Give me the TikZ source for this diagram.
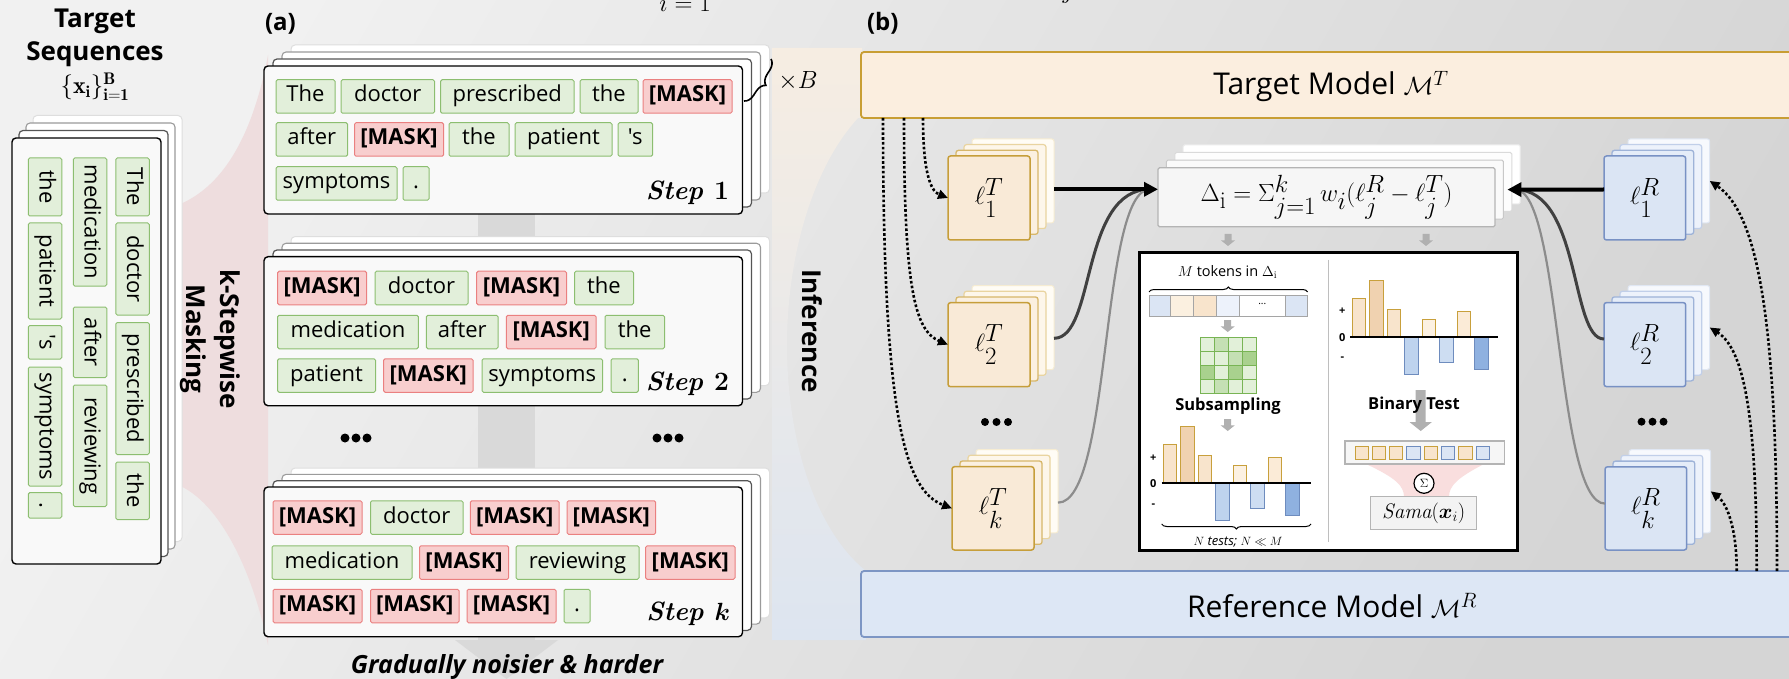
\documentclass[tikz,border=0pt]{standalone}
\usepackage{fontspec}
\usepackage{amsmath,amssymb}
\usetikzlibrary{arrows.meta,decorations.pathreplacing,calc}
\newfontfamily\os{Open Sans}

\definecolor{bgA}{RGB}{241,241,241}
\definecolor{bgD}{RGB}{213,213,213}
\definecolor{funnelpink}{RGB}{238,221,222}
\definecolor{bandgray}{RGB}{217,217,217}
\definecolor{pbtop}{RGB}{246,237,226}
\definecolor{pbbot}{RGB}{221,229,240}
\definecolor{tokfill}{RGB}{226,239,218}
\definecolor{tokline}{RGB}{140,190,112}
\definecolor{mskfill}{RGB}{248,206,206}
\definecolor{mskline}{RGB}{234,128,128}
\definecolor{cardfill}{RGB}{249,249,249}
\definecolor{tgfill}{RGB}{251,238,223}
\definecolor{tgline}{RGB}{200,158,52}
\definecolor{rffill}{RGB}{221,231,245}
\definecolor{rfline}{RGB}{125,150,196}
\definecolor{tA}{RGB}{249,234,215}\definecolor{tAl}{RGB}{198,158,58}
\definecolor{tB}{RGB}{251,240,224}\definecolor{tBl}{RGB}{215,183,106}
\definecolor{tC}{RGB}{253,246,234}\definecolor{tCl}{RGB}{233,212,160}
\definecolor{tD}{RGB}{255,252,245}\definecolor{tDl}{RGB}{246,236,210}
\definecolor{rA}{RGB}{219,229,244}\definecolor{rAl}{RGB}{120,145,196}
\definecolor{rB}{RGB}{228,236,248}\definecolor{rBl}{RGB}{158,179,216}
\definecolor{rC}{RGB}{237,242,251}\definecolor{rCl}{RGB}{193,207,233}
\definecolor{rD}{RGB}{247,249,253}\definecolor{rDl}{RGB}{224,231,243}
\definecolor{barA}{RGB}{248,228,204}
\definecolor{barB}{RGB}{240,210,176}
\definecolor{barC}{RGB}{252,241,226}
\definecolor{barD}{RGB}{251,235,215}
\definecolor{barline}{RGB}{200,160,60}
\definecolor{negA}{RGB}{190,211,238}
\definecolor{negB}{RGB}{205,221,242}
\definecolor{negC}{RGB}{143,177,224}
\definecolor{negline}{RGB}{110,140,190}
\definecolor{grA}{RGB}{226,240,217}
\definecolor{grB}{RGB}{197,224,180}
\definecolor{grC}{RGB}{169,209,142}
\definecolor{grline}{RGB}{120,180,84}
\definecolor{arrgray}{RGB}{176,176,176}
\definecolor{sumpink}{RGB}{249,222,222}
\definecolor{lnDark}{RGB}{64,64,64}
\definecolor{lnLight}{RGB}{140,140,140}
\definecolor{divgray}{RGB}{190,190,190}
\definecolor{cellgray}{RGB}{165,165,165}
\definecolor{stripfill}{RGB}{246,246,246}
\definecolor{samafill}{RGB}{243,243,243}
\definecolor{samaline}{RGB}{180,180,180}

% box given by its corners: style, name, x1, y1, x2, y2, text
\newcommand\rbox[7]{\node[#1,minimum width={(#5)-(#3)},minimum height={(#6)-(#4)}] (#2) at ({((#3)+(#5))/2},{((#4)+(#6))/2}) {#7};}
% horizontal token: style, name, x1, x2, y centre, text
\newcommand\tk[6]{\node[#1,minimum width={(#4)-(#3)}] (#2) at ({((#3)+(#4))/2},#5) {#6};}
% vertical token: style, name, y1, y2, x centre, text
\newcommand\vtk[6]{\node[#1,rotate=-90,minimum width={(#4)-(#3)}] (#2) at (#5,{((#3)+(#4))/2}) {#6};}
% three back layers of a stack: name, style prefix, x1, y1, x2, y2, dx, dy
\newcommand\backs[8]{%
  \rbox{#2d}{#1d}{(#3)+3*(#7)}{(#4)-3*(#8)}{(#5)+3*(#7)}{(#6)-3*(#8)}{}
  \rbox{#2c}{#1c}{(#3)+2*(#7)}{(#4)-2*(#8)}{(#5)+2*(#7)}{(#6)-2*(#8)}{}
  \rbox{#2b}{#1b}{(#3)+(#7)}{(#4)-(#8)}{(#5)+(#7)}{(#6)-(#8)}{}}
% bar chart: x of first bar, y of axis
\newcommand\barchart[2]{%
  \foreach \i/\h/\s in {0/39.3/pbA,1/56.6/pbB,2/28.3/pbA,3/-37.4/nbA,4/17.6/pbC,5/-25/nbB,6/26/pbD,7/-31.7/nbC}{
    \draw[\s] ({#1+\i*17.5},#2) rectangle ({#1+\i*17.5+13.4},{#2-\h});}}
% small grey block arrow: x, y1, y2, shaft half width, head half width
\newcommand\garrow[5]{%
  \fill[arrgray] ({#1-#4},#2) -- ({#1+#4},#2) -- ({#1+#4},{#3-(#5)*0.8}) -- ({#1+#5},{#3-(#5)*0.8})
    -- (#1,#3) -- ({#1-#5},{#3-(#5)*0.8}) -- ({#1-#4},{#3-(#5)*0.8}) -- cycle;}

\begin{document}
\begin{tikzpicture}[x=1pt,y=-1pt,
  every node/.style={inner sep=0pt,outer sep=0pt},
  tok/.style={draw=tokline,fill=tokfill,rounded corners=1.5pt,line width=1pt,minimum height=33.5,
    text height=16pt,text depth=5pt,font=\os\fontsize{22}{26}\selectfont},
  msk/.style={tok,draw=mskline,fill=mskfill,font=\os\bfseries\fontsize{22}{26}\selectfont},
  cda/.style={draw=black,fill=cardfill,line width=1.4pt,rounded corners=4pt},
  cdb/.style={draw={rgb,255:red,85;green,85;blue,85},fill=white,line width=1.2pt,rounded corners=4pt},
  cdc/.style={draw={rgb,255:red,155;green,155;blue,155},fill=white,line width=1.1pt,rounded corners=4pt},
  cdd/.style={draw={rgb,255:red,222;green,222;blue,222},fill=white,line width=1pt,rounded corners=4pt},
  tca/.style={draw=tAl,fill=tA,line width=1.5pt,rounded corners=2.5pt,font=\fontsize{40}{44}\selectfont},
  tcb/.style={draw=tBl,fill=tB,line width=1.3pt,rounded corners=2.5pt},
  tcc/.style={draw=tCl,fill=tC,line width=1.2pt,rounded corners=2.5pt},
  tcd/.style={draw=tDl,fill=tD,line width=1pt,rounded corners=2.5pt},
  rca/.style={draw=rAl,fill=rA,line width=1.5pt,rounded corners=2.5pt,font=\fontsize{40}{44}\selectfont},
  rcb/.style={draw=rBl,fill=rB,line width=1.3pt,rounded corners=2.5pt},
  rcc/.style={draw=rCl,fill=rC,line width=1.2pt,rounded corners=2.5pt},
  rcd/.style={draw=rDl,fill=rD,line width=1pt,rounded corners=2.5pt},
  dla/.style={draw={rgb,255:red,180;green,180;blue,180},fill={rgb,255:red,246;green,246;blue,246},line width=1.2pt,rounded corners=1.5pt,font=\fontsize{34.5}{40}\selectfont},
  dlb/.style={draw={rgb,255:red,200;green,200;blue,200},fill={rgb,255:red,250;green,250;blue,250},line width=1pt,rounded corners=1.5pt},
  dlc/.style={draw={rgb,255:red,218;green,218;blue,218},fill={rgb,255:red,253;green,253;blue,253},line width=1pt,rounded corners=1.5pt},
  dld/.style={draw={rgb,255:red,236;green,236;blue,236},fill=white,line width=1pt,rounded corners=1.5pt},
  modelT/.style={draw=tgline,fill=tgfill,line width=1.8pt,rounded corners=3pt},
  modelR/.style={draw=rfline,fill=rffill,line width=1.8pt,rounded corners=3pt},
  mlabel/.style={font=\os\fontsize{30}{36}\selectfont,anchor=base},
  head/.style={font=\os\bfseries\fontsize{26}{34}\selectfont},
  panlbl/.style={font=\os\bfseries\fontsize{24}{28}\selectfont,anchor=base west},
  steplbl/.style={font=\rmfamily\bfseries\itshape\fontsize{26.5}{30}\selectfont,anchor=base east},
  pbA/.style={draw=barline,fill=barA,line width=1pt},
  pbB/.style={draw=barline,fill=barB,line width=1pt},
  pbC/.style={draw=barline,fill=barC,line width=1pt},
  pbD/.style={draw=barline,fill=barD,line width=1pt},
  nbA/.style={draw=negline,fill=negA,line width=1pt},
  nbB/.style={draw=negline,fill=negB,line width=1pt},
  nbC/.style={draw=negline,fill=negC,line width=1pt},
  axlbl/.style={font=\os\bfseries\fontsize{11}{13}\selectfont},
  sublbl/.style={font=\os\bfseries\fontsize{16.5}{20}\selectfont},
  dotarrow/.style={line width=2.6pt,dash pattern=on 2.6pt off 2.2pt,-{Triangle[length=10pt,width=9pt]}},
  thickarrow/.style={line width=4pt,-{Triangle[length=14pt,width=14pt]}},
  brc/.style={decorate,line width=1pt}
]
\clip (0,0) rectangle (1789,679);
\useasboundingbox (0,0) rectangle (1789,679);

% ---------- background ----------
\shade[top color=bgA,bottom color=bgD,shading angle=60] (0,0) rectangle (1789,679);
% masking funnel
\fill[funnelpink] (178,205) .. controls (215,190) and (250,150) .. (268,55)
  -- (268,645) .. controls (250,560) and (215,500) .. (178,485) -- cycle;
% progression band behind the steps
\fill[bandgray] (478,60) rectangle (535,642);
\fill[bandgray] (455,640) -- (558,640) -- (506.5,679) -- cycle;
% inference region of panel (b)
\shade[top color=pbtop,bottom color=pbbot] (772,48) -- (862,48) -- (862,118) -- (858,118)
  .. controls (812,168) and (787,258) .. (787,345)
  .. controls (787,440) and (815,530) .. (866,571) -- (866,640) -- (772,640) -- cycle;

% clipped formula fragments at the top edge
\node[font=\fontsize{30}{34}\selectfont,anchor=base] (cutA) at (685,12) {$i=1$};
\node[font=\fontsize{30}{34}\selectfont,anchor=base] (cutB) at (1090,-1) {$j=1$};

% ---------- target sequences ----------
\node[head,anchor=base] (tt1) at (95,28) {Target};
\node[head,anchor=base] (tt2) at (95,61) {Sequences};
\node[font=\fontsize{24}{28}\selectfont,anchor=base] (tt3) at (95,94) {$\{\mathbf{x}_{\mathbf{i}}\}_{\mathbf{i=1}}^{\mathbf{B}}$};

\backs{L}{cd}{12}{138}{161}{564}{7}{7.5}
\rbox{cda}{La}{12}{138}{161}{564}{}
\vtk{tok}{v1}{158}{216}{132.5}{The}
\vtk{tok}{v2}{223}{315}{132.5}{doctor}
\vtk{tok}{v3}{322.5}{454.5}{132.5}{prescribed}
\vtk{tok}{v4}{462}{519.5}{132.5}{the}
\vtk{tok}{v5}{158}{286}{90}{medication}
\vtk{tok}{v6}{307}{377.5}{90}{after}
\vtk{tok}{v7}{385}{506.5}{90}{reviewing}
\vtk{tok}{v8}{158}{216}{45}{the}
\vtk{tok}{v9}{223}{319}{45}{patient}
\vtk{tok}{v10}{325.5}{359}{45}{'s}
\vtk{tok}{v11}{367}{486}{45}{symptoms}
\vtk{tok}{v12}{492.6}{518}{45}{.}

\node[head,rotate=-90,align=center] (ksm) at (210,339) {k-Stepwise\\Masking};

% ---------- panel (a): masking steps ----------
\node[panlbl] (pa) at (265,31) {(a)};

\backs{S1}{cd}{264}{66}{742.5}{214}{9}{7}
\rbox{cda}{S1a}{264}{66}{742.5}{214}{}
\tk{tok}{a1}{276}{335}{96.5}{The}
\tk{tok}{a2}{341}{434.5}{96.5}{doctor}
\tk{tok}{a3}{440.6}{574}{96.5}{prescribed}
\tk{tok}{a4}{580}{638}{96.5}{the}
\tk{msk}{a5}{643}{732}{96.5}{[MASK]}
\tk{tok}{a6}{276}{347.6}{139.5}{after}
\tk{msk}{a7}{354.5}{443.6}{139.5}{[MASK]}
\tk{tok}{a8}{449}{509}{139.5}{the}
\tk{tok}{a9}{515}{612}{139.5}{patient}
\tk{tok}{a10}{618}{652.6}{139.5}{'s}
\tk{tok}{a11}{276}{397}{183.5}{symptoms}
\tk{tok}{a12}{403}{429}{183.5}{.}
\node[steplbl] (st1) at (729,200) {Step \upshape 1};
\draw[brc,line width=1.6pt,decoration={brace,amplitude=10pt}] (771,59) -- (744,101);
\node[font=\fontsize{24}{26}\selectfont] (xb) at (798,81) {$\times B$};

\backs{S2}{cd}{264}{256.7}{742.5}{405.7}{9}{6.7}
\rbox{cda}{S2a}{264}{256.7}{742.5}{405.7}{}
\tk{msk}{b1}{277.6}{366.7}{288}{[MASK]}
\tk{tok}{b2}{375}{468}{288}{doctor}
\tk{msk}{b3}{476.6}{566.5}{288}{[MASK]}
\tk{tok}{b4}{574.5}{633.5}{288}{the}
\tk{tok}{b5}{277.6}{418.4}{332}{medication}
\tk{tok}{b6}{426.4}{498}{332}{after}
\tk{msk}{b7}{506.4}{596}{332}{[MASK]}
\tk{tok}{b8}{605}{664.5}{332}{the}
\tk{tok}{b9}{277.6}{375.5}{375.5}{patient}
\tk{msk}{b10}{383.6}{473}{375.5}{[MASK]}
\tk{tok}{b11}{482}{602.5}{375.5}{symptoms}
\tk{tok}{b12}{611}{638.4}{375.5}{.}
\node[steplbl] (st2) at (729,390) {Step \upshape 2};

\foreach \x in {345,356,367,657,668,679} \fill (\x,438) circle (4.5);

\backs{Sk}{cd}{264}{487}{742.5}{636.7}{9}{6.3}
\rbox{cda}{Ska}{264}{487}{742.5}{636.7}{}
\tk{msk}{c1}{273}{362}{517.5}{[MASK]}
\tk{tok}{c2}{370.5}{463}{517.5}{doctor}
\tk{msk}{c3}{470.4}{559}{517.5}{[MASK]}
\tk{msk}{c4}{567}{655.7}{517.5}{[MASK]}
\tk{tok}{c5}{272}{412}{562.5}{medication}
\tk{msk}{c6}{419.5}{508.7}{562.5}{[MASK]}
\tk{tok}{c7}{516}{639}{562.5}{reviewing}
\tk{msk}{c8}{645.7}{735}{562.5}{[MASK]}
\tk{msk}{c9}{273}{362}{606}{[MASK]}
\tk{msk}{c10}{370.5}{459}{606}{[MASK]}
\tk{msk}{c11}{467}{556}{606}{[MASK]}
\tk{tok}{c12}{564}{590}{606}{.}
\node[steplbl] (stk) at (730,620) {Step $\boldsymbol{k}$};

\node[font=\os\bfseries\itshape\fontsize{25}{28}\selectfont] (grad) at (507,667) {Gradually noisier \& harder};

\node[head,rotate=-90] (inf) at (812,331) {Inference};

% ---------- panel (b) ----------
\node[panlbl] (pb) at (867,31) {(b)};
\rbox{modelT}{TM}{861}{52}{1810}{118}{}
\node[mlabel] (TMl) at (1331,95) {Target Model $\mathcal{M}^T$};
\rbox{modelR}{RM}{861}{571}{1810}{637}{}
\node[mlabel] (RMl) at (1332,617) {Reference Model $\mathcal{M}^R$};

% per-step log-likelihood stacks
\backs{T1}{tc}{948}{156}{1030}{240}{8}{5.7}
\rbox{tca}{T1a}{948}{156}{1030}{240}{$\ell_1^T$}
\backs{T2}{tc}{948}{302.7}{1030}{386.7}{8}{5.7}
\rbox{tca}{T2a}{948}{302.7}{1030}{386.7}{$\ell_2^T$}
\backs{Tk}{tc}{952}{466.7}{1034}{550}{8}{5.7}
\rbox{tca}{Tka}{952}{466.7}{1034}{550}{$\ell_k^T$}
\foreach \x in {985,996.5,1008} \fill (\x,422) circle (4);

\backs{R1}{rc}{1604}{156}{1685.7}{240}{8}{5.7}
\rbox{rca}{R1a}{1604}{156}{1685.7}{240}{$\ell_1^R$}
\backs{R2}{rc}{1604}{302.6}{1685.7}{386.6}{8}{5.7}
\rbox{rca}{R2a}{1604}{302.6}{1685.7}{386.6}{$\ell_2^R$}
\backs{Rk}{rc}{1605}{466.8}{1686.7}{550}{8}{5.7}
\rbox{rca}{Rka}{1605}{466.8}{1686.7}{550}{$\ell_k^R$}
\foreach \x in {1641.5,1652.5,1663.5} \fill (\x,421.7) circle (4);

% score box
\backs{DL}{dl}{1158}{167.7}{1495}{226.7}{8.4}{7.6}
\rbox{dla}{DLa}{1158}{167.7}{1495}{226.7}{$\Delta_{\mathrm{i}} = \Sigma_{j=1}^{k}\, w_i(\ell_j^R - \ell_j^T)$}
\coordinate (dL) at ($(DLa.west)+(0,-7.9)$);
\coordinate (dR) at ($(DLb.east)+(4,0)$);
\garrow{1228}{234}{246}{3.5}{7}
\garrow{1426}{234}{246}{3.5}{7}

% connectors into the score box
\draw[line width=3pt,lnDark,shorten >=8pt] ($(T2d.east)+(0,10.7)$) .. controls +(42,0) and +(-78,0) .. (dL);
\draw[line width=2.2pt,lnLight,shorten >=8pt] ($(Tkd.east)+(0,11.4)$) .. controls +(54,0) and +(-58,0) .. (dL);
\draw[thickarrow] ($(T1d.east)+(0,8.4)$) -- (dL);
\draw[line width=3pt,lnDark,shorten >=8pt] ($(R2a.west)+(0,-5.6)$) .. controls +(-34,0) and +(74,0) .. (dR);
\draw[line width=2.2pt,lnLight,shorten >=8pt] ($(Rka.west)+(0,-4.8)$) .. controls +(-49,0) and +(54,0) .. (dR);
\draw[thickarrow] ($(R1a.west)+(0,-8.5)$) -- (dR);

% model inference arrows
\draw[dotarrow] ($(TM.south west)+(62,0)$) .. controls +(0,52) and +(-18,-7) .. (T1a.west);
\draw[dotarrow] ($(TM.south west)+(43,0)$) .. controls +(0,172) and +(-33,-14) .. (T2a.west);
\draw[dotarrow] ($(TM.south west)+(22,0)$) .. controls +(0,302) and +(-47,-18) .. (Tka.west);
\draw[dotarrow] ($(RM.north west)+(916,0)$) .. controls +(0,-241) and +(50,34) .. (R1d.east);
\draw[dotarrow] ($(RM.north west)+(895.7,0)$) .. controls +(0,-151) and +(35,22) .. (R2d.east);
\draw[dotarrow] ($(RM.north west)+(875.7,0)$) .. controls +(0,-41) and +(17,13) .. (Rkd.east);

% ---------- test panel ----------
\rbox{draw=black,fill=white,line width=2.5pt}{IP}{1139.5}{252.7}{1517.3}{550.7}{}
\draw[line width=1pt,draw=divgray] (1328,260) -- (1328,542);

% left half: subsampling
\node[font=\os\fontsize{14.5}{17}\selectfont] (mtok) at (1227.5,272) {$M$ tokens in $\Delta_{\mathrm{i}}$};
\draw[brc,decoration={brace,amplitude=5pt}] (1149,292) -- (1307.7,292);
\foreach \a/\b/\f in {1149/1170.7/rA,1170.7/1193.3/tB,1193.3/1216/barA,1216/1239/rC,1239/1285.7/white,1285.7/1307.7/rA}
  \draw[draw=cellgray,fill=\f,line width=1pt] (\a,295) rectangle (\b,316.7);
\node[font=\os\fontsize{10}{12}\selectfont] (sdots) at (1262.3,304) {...};
\garrow{1227.7}{320}{332}{3.5}{7}
\foreach \r/\c/\g in {0/0/grA,0/1/grB,0/2/grA,0/3/grA,
                      1/0/grA,1/1/grA,1/2/grB,1/3/grC,
                      2/0/grC,2/1/grA,2/2/grC,2/3/grA,
                      3/0/grA,3/1/grB,3/2/grA,3/3/grA}
  \draw[draw=grline,fill=\g,line width=0.9pt] ({1200+\c*14.17},{337.7+\r*13.9}) rectangle ++(14.17,13.9);
\node[sublbl] (subs) at (1228,406) {Subsampling};
\garrow{1227.7}{419}{431}{3.5}{7}
\barchart{1163.3}{483.3}
\draw[line width=2.2pt] (1161.7,483.3) -- (1311,483.3);
\node[axlbl] (pl1) at (1153.3,458.3) {+};
\node[axlbl] (ze1) at (1153.3,483.3) {0};
\node[axlbl] (mi1) at (1153.3,506) {-};
\draw[brc,decoration={brace,amplitude=5pt}] (1311,524) -- (1161.7,524);
\node[font=\os\itshape\fontsize{13}{15}\selectfont] (ntest) at (1238,542) {$N$ tests; $N \ll M$};

% right half: binary test
\barchart{1352.3}{337.3}
\draw[line width=2.2pt] (1350,337.3) -- (1498.3,337.3);
\node[axlbl] (pl2) at (1342.3,311.3) {+};
\node[axlbl] (ze2) at (1342.3,337.3) {0};
\node[axlbl] (mi2) at (1342.3,359) {-};
\garrow{1420.7}{390}{431}{5}{11}
\node[sublbl] (bint) at (1414,405.5) {Binary Test};
\fill[sumpink] (1366,464) .. controls (1396,478) and (1404,486) .. (1404,497)
  -- (1449,497) .. controls (1449,486) and (1457,478) .. (1484,464) -- cycle;
\rbox{draw=samaline,fill=stripfill,line width=1.2pt}{strip}{1345}{441}{1504.3}{464}{}
\foreach \i/\f/\l in {0/barA/barline,1/barA/barline,2/barA/barline,3/rA/negline,4/barA/barline,5/rA/negline,6/barA/barline,7/rA/negline}
  \draw[draw=\l,fill=\f,line width=1pt] ({1355+\i*17.3},446) rectangle ++(13.3,13.3);
\rbox{draw=samaline,fill=samafill,line width=1.2pt,font=\fontsize{21}{24}\selectfont}{sama}{1370.7}{496.7}{1476.7}{529.3}{$\mathit{Sama}(\boldsymbol{x}_i)$}
\node[circle,draw=black,fill=white,line width=1.2pt,minimum size=20pt,font=\fontsize{12}{14}\selectfont] (sig) at (1424,483.3) {$\Sigma$};
\end{tikzpicture}
\end{document}
